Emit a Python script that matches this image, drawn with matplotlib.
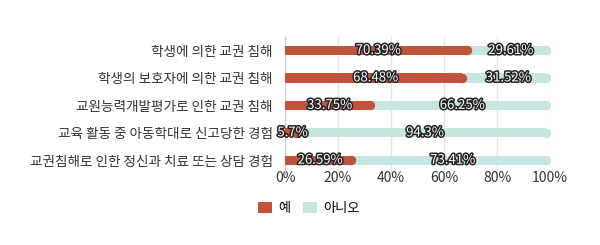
import matplotlib.pyplot as plt
import matplotlib.patheffects as pe
import numpy as np

plt.rcParams['font.family'] = ['Noto Sans CJK KR', 'DejaVu Sans']

# data
categories = ['학생에 의한 교권 침해',
              '학생의 보호자에 의한 교권 침해',
              '교원능력개발평가로 인한 교권 침해',
              '교육 활동 중 아동학대로 신고당한 경험',
              '교권침해로 인한 정신과 치료 또는 상담 경험']
yes_vals = [70.39, 68.48, 33.75, 5.7, 26.59]
no_vals = [29.61, 31.52, 66.25, 94.3, 73.41]
yes_labels = ['70.39%', '68.48%', '33.75%', '5.7%', '26.59%']
no_labels = ['29.61%', '31.52%', '66.25%', '94.3%', '73.41%']

red = '#C0533A'
teal = '#C6E6E1'

fig = plt.figure(figsize=(6, 2.45), dpi=100)
ax = fig.add_axes([0.475, 0.29, 0.442, 0.56])

y = np.arange(len(categories))
yes_vals = np.array(yes_vals)
no_vals = np.array(no_vals)
totals = yes_vals + no_vals

# rounded right ends: shorten the bar by the cap radius and put a dot at the end
r = 1.7  # cap radius in x units (about 4.5 px)
ax.barh(y, totals - r, height=0.34, color=teal, label='아니오', zorder=2)
ax.scatter(totals - r, y, s=46, color=teal, linewidths=0, zorder=2)
ax.barh(y, yes_vals - r, height=0.34, color=red, label='예', zorder=3)
ax.scatter(yes_vals - r, y, s=46, color=red, linewidths=0, zorder=3)

stroke = [pe.withStroke(linewidth=2.2, foreground='#222222')]
for i in range(len(categories)):
    ax.text(yes_vals[i] / 2, y[i], yes_labels[i], ha='center', va='center',
            fontsize=9.5, color='white', path_effects=stroke, zorder=5)
    ax.text(yes_vals[i] + no_vals[i] / 2, y[i], no_labels[i], ha='center', va='center',
            fontsize=9.5, color='white', path_effects=stroke, zorder=5)

ax.set_xlim(0, 100)
ax.set_ylim(len(categories) - 0.5, -0.5)
ax.set_yticks(y)
ax.set_yticklabels(categories, fontsize=9.8, color='#333333')
ax.set_xticks([0, 20, 40, 60, 80, 100])
ax.set_xticklabels(['0%', '20%', '40%', '60%', '80%', '100%'], fontsize=10, color='#333333')
ax.tick_params(axis='y', length=0, pad=9)
ax.tick_params(axis='x', length=0, pad=-2)
ax.grid(axis='x', color='#e6e6e6', linewidth=1, zorder=0)
for s in ['top', 'right', 'bottom']:
    ax.spines[s].set_visible(False)
ax.spines['left'].set_color('#cccccc')

handles, labels = ax.get_legend_handles_labels()
fig.legend(handles[::-1], labels[::-1], loc='center', bbox_to_anchor=(0.515, 0.15), ncol=2,
           frameon=False, fontsize=9.5, handlelength=1.0, handleheight=0.9,
           handletextpad=0.5, columnspacing=1.0)

fig.savefig('out.png', dpi=100)
